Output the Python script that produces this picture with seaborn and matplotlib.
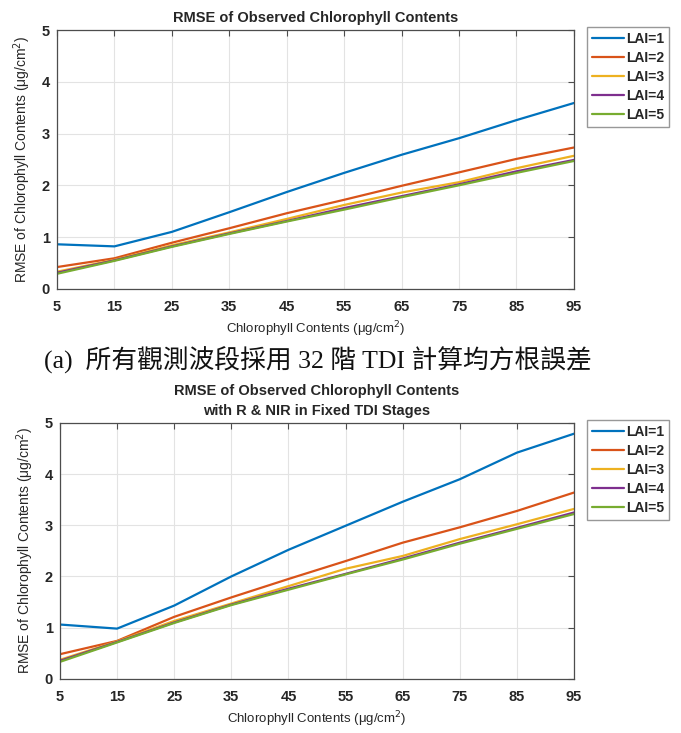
import numpy as np
import pandas as pd
import matplotlib
matplotlib.use("Agg")
import matplotlib.pyplot as plt
import seaborn as sns

chl = [5, 15, 25, 35, 45, 55, 65, 75, 85, 95]
lai_labels = ["LAI=1", "LAI=2", "LAI=3", "LAI=4", "LAI=5"]

# panel (a): all bands, 32 TDI stages
a_lai1 = [0.86, 0.82, 1.10, 1.48, 1.87, 2.24, 2.59, 2.91, 3.26, 3.59]
a_lai2 = [0.42, 0.59, 0.89, 1.17, 1.46, 1.72, 1.99, 2.25, 2.51, 2.73]
a_lai3 = [0.33, 0.56, 0.84, 1.09, 1.35, 1.62, 1.86, 2.06, 2.33, 2.57]
a_lai4 = [0.31, 0.55, 0.82, 1.07, 1.31, 1.56, 1.79, 2.02, 2.27, 2.49]
a_lai5 = [0.29, 0.54, 0.81, 1.06, 1.30, 1.53, 1.77, 2.00, 2.24, 2.47]

# panel (b): R & NIR in fixed TDI stages
b_lai1 = [1.06, 0.98, 1.43, 2.00, 2.52, 2.99, 3.46, 3.90, 4.42, 4.79]
b_lai2 = [0.48, 0.74, 1.21, 1.59, 1.95, 2.30, 2.66, 2.96, 3.28, 3.64]
b_lai3 = [0.37, 0.73, 1.13, 1.47, 1.81, 2.15, 2.40, 2.73, 3.02, 3.32]
b_lai4 = [0.35, 0.72, 1.10, 1.45, 1.76, 2.05, 2.35, 2.66, 2.95, 3.25]
b_lai5 = [0.33, 0.71, 1.09, 1.44, 1.74, 2.04, 2.33, 2.64, 2.93, 3.22]

colors = ["#0072BD", "#D95319", "#EDB120", "#7E2F8E", "#77AC30"]

def make_df(series):
    rows = []
    for lab, vals in zip(lai_labels, series):
        for x, y in zip(chl, vals):
            rows.append({"chl": x, "rmse": y, "LAI": lab})
    return pd.DataFrame(rows)

df_a = make_df([a_lai1, a_lai2, a_lai3, a_lai4, a_lai5])
df_b = make_df([b_lai1, b_lai2, b_lai3, b_lai4, b_lai5])

sns.set_theme(style="white")
plt.rcParams['font.family'] = ['Liberation Sans', 'DejaVu Sans']

fig = plt.figure(figsize=(6.81, 7.33), dpi=100)
ax1 = fig.add_axes([0.0837, 0.606, 0.759, 0.353])
ax2 = fig.add_axes([0.088, 0.074, 0.755, 0.349])

def style(ax, df, title):
    sns.lineplot(data=df, x="chl", y="rmse", hue="LAI", palette=colors,
                 linewidth=1.6, ax=ax)
    ax.set_xlim(5, 95)
    ax.set_ylim(0, 5)
    ax.set_xticks(chl)
    ax.set_yticks([0, 1, 2, 3, 4, 5])
    ax.grid(True, color="#e3e3e3", linewidth=0.8)
    ax.set_axisbelow(True)
    for s in ax.spines.values():
        s.set_color("#4d4d4d")
        s.set_linewidth(0.9)
    ax.tick_params(direction="in", length=4, width=0.8, color="#4d4d4d",
                   top=True, right=True, labelsize=10.5)
    ax.tick_params(axis="x", pad=8)
    ax.tick_params(axis="y", pad=5)
    for lbl in ax.get_xticklabels() + ax.get_yticklabels():
        lbl.set_fontweight("bold")
        lbl.set_color("#262626")
    ax.set_xlabel("Chlorophyll Contents (μg/cm$^2$)", fontsize=9.5, color="#262626", labelpad=4)
    ax.set_ylabel("RMSE of Chlorophyll Contents (μg/cm$^2$)", fontsize=10, color="#262626", labelpad=6)
    ax.set_title(title, fontsize=10.5, fontweight="bold", color="#262626", pad=6,
                 linespacing=1.5)
    leg = ax.legend(loc="upper left", bbox_to_anchor=(1.025, 1.01), frameon=True,
                    fancybox=False, handlelength=2.3, handletextpad=0.15,
                    borderpad=0.35, labelspacing=0.35, borderaxespad=0.0,
                    prop={"weight": "bold", "size": 10})
    leg.get_frame().set_edgecolor("#7f7f7f")
    leg.get_frame().set_linewidth(1.0)
    for t in leg.get_texts():
        t.set_color("#262626")

style(ax1, df_a, "RMSE of Observed Chlorophyll Contents")
style(ax2, df_b, "RMSE of Observed Chlorophyll Contents\nwith R & NIR in Fixed TDI Stages")

fig.text(0.467, 0.508, "(a)  所有觀測波段採用 32 階 TDI 計算均方根誤差",
         ha="center", va="center", fontsize=18.5,
         family=['Liberation Serif', 'Noto Sans CJK TC'], color="#111111")

fig.savefig("out.png", dpi=100)
